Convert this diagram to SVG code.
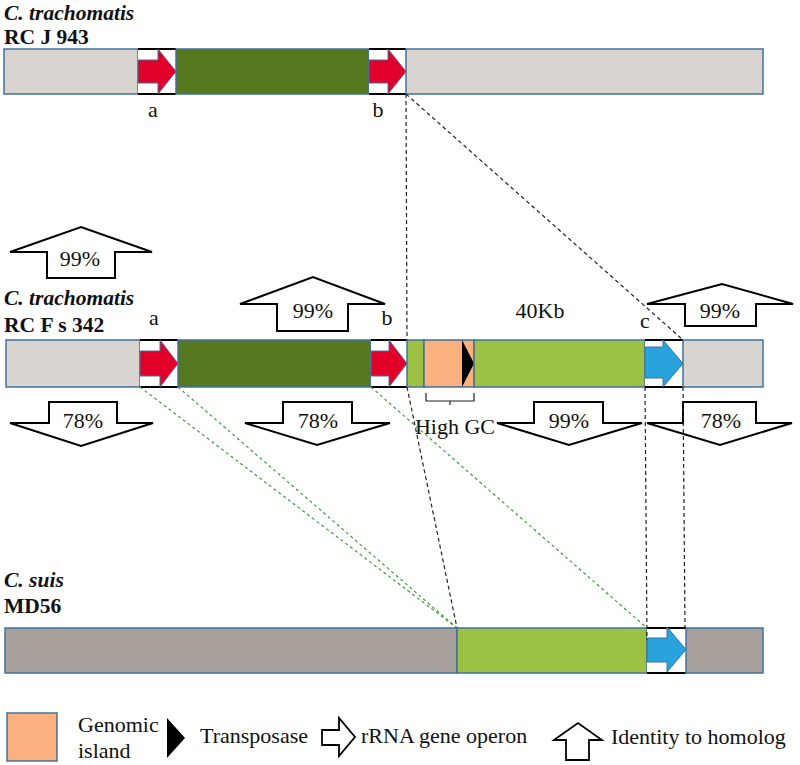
<svg xmlns="http://www.w3.org/2000/svg" width="800" height="765" viewBox="0 0 800 765">
<style>
.t{font-family:"Liberation Serif","Times New Roman",serif;font-size:22px;fill:#111}
.m{text-anchor:middle}
.ti{font-family:"Liberation Serif","Times New Roman",serif;font-size:21.5px;font-weight:bold;fill:#111}
.it{font-style:italic}
.bar{stroke:#41719c;stroke-width:1.5}
.g1{fill:#d9d4d0}
.g2{fill:#a8a09b}
.dg{fill:#56781f}
.lg{fill:#9dc143}
.or{fill:#fbb07f}
.red{fill:#e2002b;stroke:#41719c;stroke-width:1}
.blu{fill:#28a3dc;stroke:#41719c;stroke-width:1}
.box{fill:#fff}
.edge{stroke:#000;stroke-width:2}
.ha{fill:#fff;stroke:#000;stroke-width:2;stroke-linejoin:miter}
.dk{fill:none;stroke:#222;stroke-width:1.2;stroke-dasharray:4,3}
.dgn{fill:none;stroke:#3c9a3c;stroke-width:1.2;stroke-dasharray:3,3}
</style>
<rect width="800" height="765" fill="#fff"/>

<!-- Track 1 -->
<g id="track-rcj943">
<text class="ti it" x="4" y="20">C. trachomatis</text>
<text class="ti" x="4" y="44">RC J 943</text>
<rect class="bar g1" x="4" y="49" width="134" height="45"/>
<rect class="box" x="138" y="49" width="38" height="45"/>
<line class="edge" x1="138" y1="49" x2="176" y2="49"/><line class="edge" x1="138" y1="94" x2="176" y2="94"/>
<polygon class="red" points="138,60 158,60 158,49 176,71.5 158,94 158,83 138,83"/>
<rect class="bar dg" x="176" y="49" width="193" height="45"/>
<rect class="box" x="369" y="49" width="37" height="45"/>
<line class="edge" x1="369" y1="49" x2="406" y2="49"/><line class="edge" x1="369" y1="94" x2="406" y2="94"/>
<polygon class="red" points="369,60 388,60 388,49 406,71.5 388,94 388,83 369,83"/>
<rect class="bar g1" x="406" y="49" width="357" height="45"/>
<text class="t m" x="153" y="117">a</text>
<text class="t m" x="378" y="117">b</text>
</g>

<!-- Identity arrows -->
<g id="identity-arrows">
<polygon class="ha" points="10,252 81,227 152,252 115,252 115,278 47,278 47,252"/>
<text class="t m" x="80" y="266">99%</text>
<polygon class="ha" points="240,304 313,277 385,304 348,304 348,331 277,331 277,304"/>
<text class="t m" x="313" y="318">99%</text>
<polygon class="ha" points="647,304 722,284 793,304 756,304 756,326 685,326 685,304"/>
<text class="t m" x="720" y="318">99%</text>
<polygon class="ha" points="49,402 117,402 117,423 153,423 81,446 10,423 49,423"/>
<text class="t m" x="83" y="428">78%</text>
<polygon class="ha" points="283,402 352,402 352,423 390,423 317,445 245,423 283,423"/>
<text class="t m" x="318" y="428">78%</text>
<polygon class="ha" points="534,402 603,402 603,423 642,423 569,445 497,423 534,423"/>
<text class="t m" x="569" y="428">99%</text>
<polygon class="ha" points="683,402 756,402 756,423 792,423 720,445 647,423 683,423"/>
<text class="t m" x="721" y="428">78%</text>
</g>

<!-- Track 2 -->
<g id="track-rcfs342">
<text class="ti it" x="4" y="305">C. trachomatis</text>
<text class="ti" x="4" y="332">RC F s 342</text>
<rect class="bar g1" x="6" y="340" width="134" height="47"/>
<rect class="box" x="140" y="340" width="38" height="47"/>
<line class="edge" x1="140" y1="340" x2="178" y2="340"/><line class="edge" x1="140" y1="387" x2="178" y2="387"/>
<polygon class="red" points="140,351 160,351 160,340 178,363.5 160,387 160,376 140,376"/>
<rect class="bar dg" x="178" y="340" width="193" height="47"/>
<rect class="box" x="371" y="340" width="36" height="47"/>
<line class="edge" x1="371" y1="340" x2="407" y2="340"/><line class="edge" x1="371" y1="387" x2="407" y2="387"/>
<polygon class="red" points="371,351 389,351 389,340 407,363.5 389,387 389,376 371,376"/>
<rect class="bar lg" x="407" y="340" width="17" height="47"/>
<rect class="bar or" x="424" y="340" width="50" height="47"/>
<polygon points="462,340 474,363.5 462,387" fill="#000"/>
<rect class="bar lg" x="474" y="340" width="171" height="47"/>
<rect class="box" x="645" y="340" width="38" height="47"/>
<line class="edge" x1="645" y1="340" x2="683" y2="340"/><line class="edge" x1="645" y1="387" x2="683" y2="387"/>
<polygon class="blu" points="645,347 663,347 663,340 683,363.5 663,387 663,378 645,378"/>
<rect class="bar g1" x="683" y="340" width="80" height="47"/>
<text class="t m" x="154" y="325">a</text>
<text class="t m" x="387" y="325">b</text>
<text class="t m" x="645" y="328">c</text>
<text class="t m" x="540" y="318">40Kb</text>
<path d="M426,393 V401 H474 V393 M450,401 V405" fill="none" stroke="#222" stroke-width="1.2"/>
<text class="t m" x="455" y="434">High GC</text>
</g>

<!-- Track 3 -->
<g id="track-md56">
<text class="ti it" x="4" y="587">C. suis</text>
<text class="ti" x="4" y="613">MD56</text>
<rect class="bar g2" x="5" y="628" width="452" height="45"/>
<rect class="bar lg" x="457" y="628" width="190" height="45"/>
<rect class="box" x="647" y="628" width="39" height="45"/>
<line class="edge" x1="647" y1="628" x2="686" y2="628"/><line class="edge" x1="647" y1="673" x2="686" y2="673"/>
<polygon class="blu" points="647,638 667,638 667,627 686,649.5 667,672 667,662 647,662"/>
<rect class="bar g2" x="686" y="628" width="77" height="45"/>
</g>

<!-- Connectors -->
<g id="connectors">
<line class="dk" x1="406" y1="94" x2="407" y2="340"/>
<line class="dk" x1="407" y1="387" x2="457" y2="628"/>
<line class="dk" x1="406" y1="94" x2="683" y2="340"/>
<line class="dk" x1="645" y1="387" x2="647" y2="640"/>
<line class="dk" x1="683" y1="387" x2="685" y2="628"/>
<line class="dgn" x1="140" y1="387" x2="457" y2="628"/>
<line class="dgn" x1="178" y1="387" x2="457" y2="628"/>
<line class="dgn" x1="371" y1="387" x2="647" y2="628"/>
</g>

<!-- Legend -->
<g id="legend">
<rect class="bar or" x="7" y="713" width="50" height="48"/>
<text class="t" x="78" y="732">Genomic</text>
<text class="t" x="78" y="758">island</text>
<polygon points="167,718 185,738 167,758" fill="#000"/>
<text class="t" x="200" y="743">Transposase</text>
<polygon class="ha" points="322,730 339,730 339,718 355,737 339,756 339,745 322,745" style="stroke-width:1.8"/>
<text class="t" x="361" y="743">rRNA gene operon</text>
<polygon class="ha" points="554,740 578,723 602,740 589,740 589,760 566,760 566,740" style="stroke-width:1.8"/>
<text class="t" x="611" y="744">Identity to homolog</text>
</g>
</svg>
